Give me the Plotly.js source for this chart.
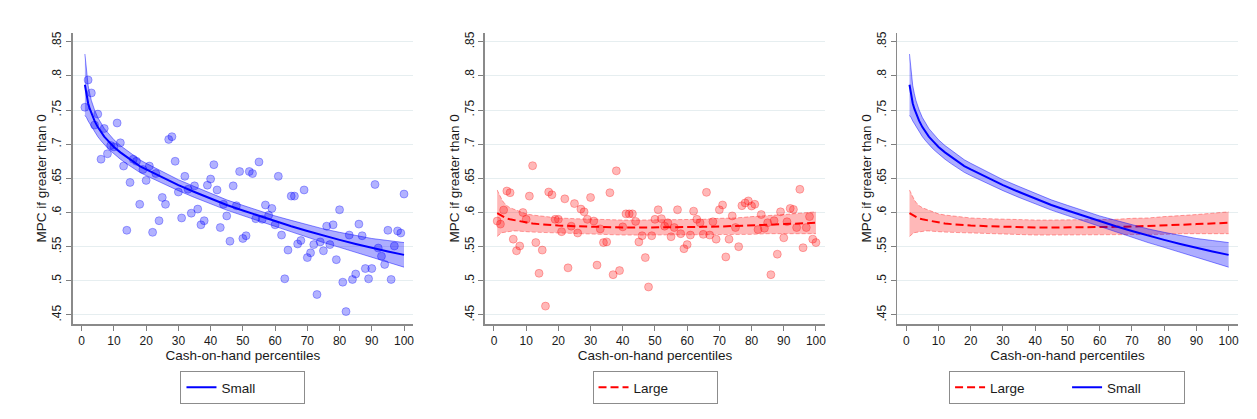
<!DOCTYPE html>
<html>
<head>
<meta charset="utf-8">
<script src="https://cdn.plot.ly/plotly-3.0.1.min.js"></script>
<style>
  html, body { margin: 0; padding: 0; background: #ffffff; }
  #chart { width: 1257px; height: 419px; }
</style>
</head>
<body>
<div id="chart"></div>
<script>
// ---------- data ----------
const pctX = [];
for (let i = 1; i <= 100; i++) pctX.push(i);

const smallPts = [0.754,0.794,0.775,0.728,0.744,0.678,0.723,0.686,0.698,0.696,
  0.731,0.702,0.668,0.574,0.644,0.678,0.675,0.612,0.663,0.647,
  0.668,0.571,0.657,0.588,0.622,0.612,0.707,0.711,0.675,0.630,
  0.592,0.653,0.634,0.599,0.639,0.605,0.582,0.588,0.640,0.649,
  0.670,0.633,0.578,0.612,0.595,0.558,0.639,0.610,0.660,0.562,
  0.566,0.660,0.657,0.591,0.674,0.590,0.611,0.596,0.606,0.582,
  0.653,0.567,0.503,0.545,0.624,0.624,0.554,0.559,0.633,0.534,
  0.541,0.553,0.480,0.557,0.544,0.580,0.553,0.582,0.531,0.604,
  0.498,0.455,0.567,0.502,0.510,0.583,0.566,0.518,0.503,0.518,
  0.641,0.548,0.536,0.524,0.574,0.502,0.551,0.573,0.570,0.627];

const largePts = [0.5875,0.583,0.6036,0.6315,0.629,0.561,0.544,0.551,0.600,0.590,
  0.624,0.6685,0.556,0.511,0.545,0.463,0.630,0.626,0.590,0.590,
  0.572,0.620,0.519,0.580,0.613,0.570,0.605,0.601,0.590,0.622,
  0.5875,0.523,0.576,0.556,0.557,0.629,0.509,0.661,0.515,0.579,
  0.598,0.598,0.598,0.587,0.557,0.566,0.534,0.491,0.566,0.590,
  0.604,0.591,0.580,0.585,0.5645,0.578,0.604,0.569,0.547,0.553,
  0.567,0.602,0.590,0.585,0.568,0.6295,0.567,0.5865,0.561,0.604,
  0.611,0.535,0.561,0.595,0.578,0.550,0.610,0.614,0.617,0.6095,
  0.612,0.575,0.597,0.577,0.585,0.509,0.588,0.539,0.601,0.563,
  0.5865,0.606,0.6045,0.578,0.634,0.5485,0.578,0.594,0.561,0.556];

const fitX = [1,1.5,2,2.5,3,4,5,6,7,8,9,10,12,14,16,18,20,25,30,35,40,45,50,55,60,65,70,75,80,85,90,95,100];

const smallFit = [0.787,0.772,0.760,0.752,0.745,0.734,0.725,0.718,0.711,0.706,0.701,0.696,0.688,0.681,0.674,0.668,0.663,0.651,0.640,0.630,0.620,0.611,0.603,0.595,0.587,0.580,0.573,0.566,0.560,0.554,0.548,0.543,0.538];
const smallHi  = [0.832,0.805,0.786,0.774,0.764,0.750,0.739,0.731,0.723,0.7175,0.712,0.7065,0.698,0.6908,0.6835,0.6772,0.672,0.6595,0.648,0.638,0.6277,0.6185,0.6105,0.6025,0.595,0.5885,0.582,0.576,0.571,0.566,0.562,0.559,0.556];
const smallLo  = [0.742,0.739,0.734,0.730,0.726,0.718,0.711,0.705,0.699,0.6945,0.690,0.6855,0.678,0.6712,0.6645,0.6588,0.654,0.6425,0.632,0.622,0.6123,0.6035,0.5955,0.5875,0.579,0.5715,0.564,0.556,0.549,0.542,0.534,0.527,0.520];

const largeFit = [0.599,0.5975,0.596,0.5945,0.593,0.591,0.590,0.589,0.588,0.587,0.586,0.585,0.5838,0.583,0.582,0.5815,0.581,0.580,0.579,0.5785,0.578,0.578,0.578,0.578,0.5785,0.579,0.5795,0.580,0.581,0.582,0.583,0.584,0.585];
const largeHi  = [0.633,0.6275,0.623,0.6185,0.615,0.610,0.607,0.605,0.603,0.601,0.5995,0.598,0.5963,0.595,0.594,0.593,0.592,0.591,0.590,0.5895,0.589,0.589,0.589,0.589,0.5895,0.590,0.5915,0.592,0.594,0.595,0.597,0.599,0.601];
const largeLo  = [0.565,0.5675,0.569,0.5705,0.571,0.572,0.573,0.573,0.573,0.573,0.5725,0.572,0.5713,0.571,0.570,0.570,0.570,0.569,0.568,0.5675,0.567,0.567,0.567,0.567,0.5675,0.568,0.5675,0.568,0.568,0.569,0.569,0.569,0.569];

const xTickVals = [0,10,20,30,40,50,60,70,80,90,100];
const yTickVals = [0.45,0.5,0.55,0.6,0.65,0.7,0.75,0.8,0.85];
const yTickText = [".45",".5",".55",".6",".65",".7",".75",".8",".85"];

const xTitle = "Cash-on-hand percentiles";
const yTitle = "MPC if greater than 0";

// ---------- styles ----------
const BLUE = "#0000ff", RED = "#ff0000";
const blueFill = "rgba(0,0,255,0.32)", blueEdge = "rgba(0,0,255,0.45)";
const redFill = "rgba(255,0,0,0.28)", redEdge = "rgba(255,0,0,0.35)";
const FONT = "Liberation Sans, Arial, sans-serif";

function band(xa, ya, lo, hi, fill, edge, dash) {
  return [
    {x: fitX, y: lo, xaxis: xa, yaxis: ya, type: "scatter", mode: "lines",
     line: {color: edge, width: 1, dash: dash}, showlegend: false, hoverinfo: "skip"},
    {x: fitX, y: hi, xaxis: xa, yaxis: ya, type: "scatter", mode: "lines",
     line: {color: edge, width: 1, dash: dash}, fill: "tonexty", fillcolor: fill,
     showlegend: false, hoverinfo: "skip"}
  ];
}
function pts(xa, ya, vals, col, edge) {
  return {x: pctX, y: vals, xaxis: xa, yaxis: ya, type: "scatter", mode: "markers",
    marker: {size: 8, color: col, line: {color: edge, width: 1}}, showlegend: false};
}

const traces = [];
// panel 1: Small
traces.push(pts("x", "y", smallPts, "rgba(0,0,255,0.30)", "rgba(0,0,255,0.30)"));
traces.push(...band("x", "y", smallLo, smallHi, blueFill, blueEdge, "solid"));
traces.push({x: fitX, y: smallFit, xaxis: "x", yaxis: "y", type: "scatter", mode: "lines",
  line: {color: BLUE, width: 2}, name: "Small", legend: "legend"});
// panel 2: Large
traces.push(pts("x2", "y2", largePts, "rgba(255,0,0,0.28)", "rgba(255,0,0,0.28)"));
traces.push(...band("x2", "y2", largeLo, largeHi, redFill, redEdge, "4px,2px"));
traces.push({x: fitX, y: largeFit, xaxis: "x2", yaxis: "y2", type: "scatter", mode: "lines",
  line: {color: RED, width: 2, dash: "8px,4px"}, name: "Large", legend: "legend2"});
// panel 3: both
traces.push(...band("x3", "y3", largeLo, largeHi, redFill, redEdge, "4px,2px"));
traces.push({x: fitX, y: largeFit, xaxis: "x3", yaxis: "y3", type: "scatter", mode: "lines",
  line: {color: RED, width: 2, dash: "8px,4px"}, name: "Large", legend: "legend3"});
traces.push(...band("x3", "y3", smallLo, smallHi, blueFill, blueEdge, "solid"));
traces.push({x: fitX, y: smallFit, xaxis: "x3", yaxis: "y3", type: "scatter", mode: "lines",
  line: {color: BLUE, width: 2}, name: "Small", legend: "legend3"});

function xAxis(dom, anchor) {
  return {domain: dom, anchor: anchor, range: [-2.8, 102.8], tickvals: xTickVals,
    ticks: "outside", ticklen: 5, tickcolor: "#7f7f7f", tickwidth: 1,
    showline: true, linecolor: "#8a8a8a", linewidth: 1.5, showgrid: false, zeroline: false,
    tickfont: {family: FONT, size: 12, color: "#1a1a1a"},
    title: {text: xTitle, font: {family: FONT, size: 13.5, color: "#1a1a1a"}, standoff: 2}};
}
function yAxis(anchor) {
  return {domain: [0.2267, 0.9220], anchor: anchor, range: [0.4368, 0.8632],
    tickvals: yTickVals, ticktext: yTickText, tickangle: -90,
    ticks: "outside", ticklen: 5, tickcolor: "#7f7f7f", tickwidth: 1,
    showline: true, linecolor: "#8a8a8a", linewidth: 1.5,
    showgrid: true, gridcolor: "#e6eef0", gridwidth: 1, zeroline: false,
    tickfont: {family: FONT, size: 12, color: "#1a1a1a"},
    title: {text: yTitle, font: {family: FONT, size: 13.5, color: "#1a1a1a"}, standoff: 0}};
}
function leg(xc, ew) {
  return {x: xc, xanchor: "center", y: 0.1146, yanchor: "top", orientation: "h",
    bgcolor: "#ffffff", bordercolor: "#8c8c8c", borderwidth: 1,
    font: {family: FONT, size: 13.5, color: "#1a1a1a"}, itemwidth: 30,
    entrywidth: ew, entrywidthmode: "pixels", traceorder: "normal"};
}

const layout = {
  width: 1257, height: 419,
  margin: {l: 0, r: 0, t: 0, b: 0},
  paper_bgcolor: "#ffffff", plot_bgcolor: "#ffffff",
  showlegend: true,
  xaxis: xAxis([0.0578, 0.3286], "y"),
  yaxis: yAxis("x"),
  xaxis2: xAxis([0.3858, 0.6563], "y2"),
  yaxis2: yAxis("x2"),
  xaxis3: xAxis([0.7138, 0.9846], "y3"),
  yaxis3: yAxis("x3"),
  legend: leg(0.1933, 78),
  legend2: leg(0.5211, 78),
  legend3: leg(0.8489, 72)
};

Plotly.newPlot("chart", traces, layout, {displayModeBar: false, staticPlot: true});
</script>
</body>
</html>
